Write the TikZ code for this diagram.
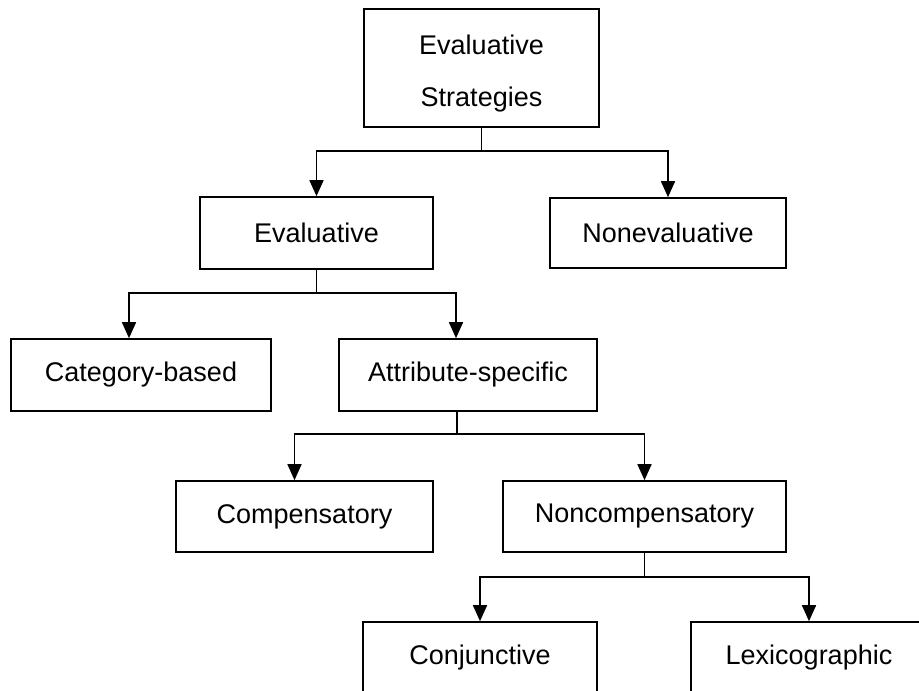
\documentclass[tikz,border=0pt]{standalone}
\usepackage{fontspec}
\setmainfont{Liberation Sans}
\usetikzlibrary{%
  arrows.meta%
}
\tikzset{>={Triangle[length=8pt,width=7pt]}}
\tikzset{box/.style = {draw, line width=0.8pt, inner sep=0pt,
        font=\fontsize{13.5}{16}\selectfont},
    branch/.style = {line width=0.8pt}}

\begin{document}
\begin{tikzpicture}[x=0.5pt,y=-0.5pt]
  \clip (0,0) rectangle (919,690);
  \node[box, minimum width=117.5pt, minimum height=59pt, align=center, text height=41.5pt] (strat) at (481.5,68) {Evaluative\\[10pt]Strategies};
  \node[box, minimum width=116.5pt, minimum height=36pt] (eval) at (316.5,233) {Evaluative};
  \node[box, minimum width=118pt, minimum height=35pt] (noneval) at (668,233) {Nonevaluative};
  \node[box, minimum width=130pt, minimum height=36pt] (cat) at (141,375) {Category-based};
  \node[box, minimum width=129pt, minimum height=36pt] (attr) at (468,375) {Attribute-specific};
  \node[box, minimum width=128.5pt, minimum height=35.5pt] (comp) at (304.5,516.5) {Compensatory};
  \node[box, minimum width=141.5pt, minimum height=35.5pt] (noncomp) at (644.5,516.5) {Noncompensatory};
  \node[box, minimum width=117pt, minimum height=35.5pt] (conj) at (480,657.5) {Conjunctive};
  \node[box, minimum width=118pt, minimum height=35.5pt] (lexi) at (809,657.5) {Lexicographic};
  \draw[branch,->] (strat.south) -- ++(0,23) -| (eval.north);
  \draw[branch,->] (strat.south) -- ++(0,23) -| (noneval.north);
  \draw[branch,->] (eval.south) -- ++(0,23) -| ([xshift=-6pt]cat.north);
  \draw[branch,->] (eval.south) -- ++(0,23) -| ([xshift=-6pt]attr.north);
  \draw[branch,->] ([xshift=-5.5pt]attr.south) -- ++(0,22) -| ([xshift=-5pt]comp.north);
  \draw[branch,->] ([xshift=-5.5pt]attr.south) -- ++(0,22) -| (noncomp.north);
  \draw[branch,->] (noncomp.south) -- ++(0,24) -| (conj.north);
  \draw[branch,->] (noncomp.south) -- ++(0,24) -| (lexi.north);
\end{tikzpicture}
\end{document}
